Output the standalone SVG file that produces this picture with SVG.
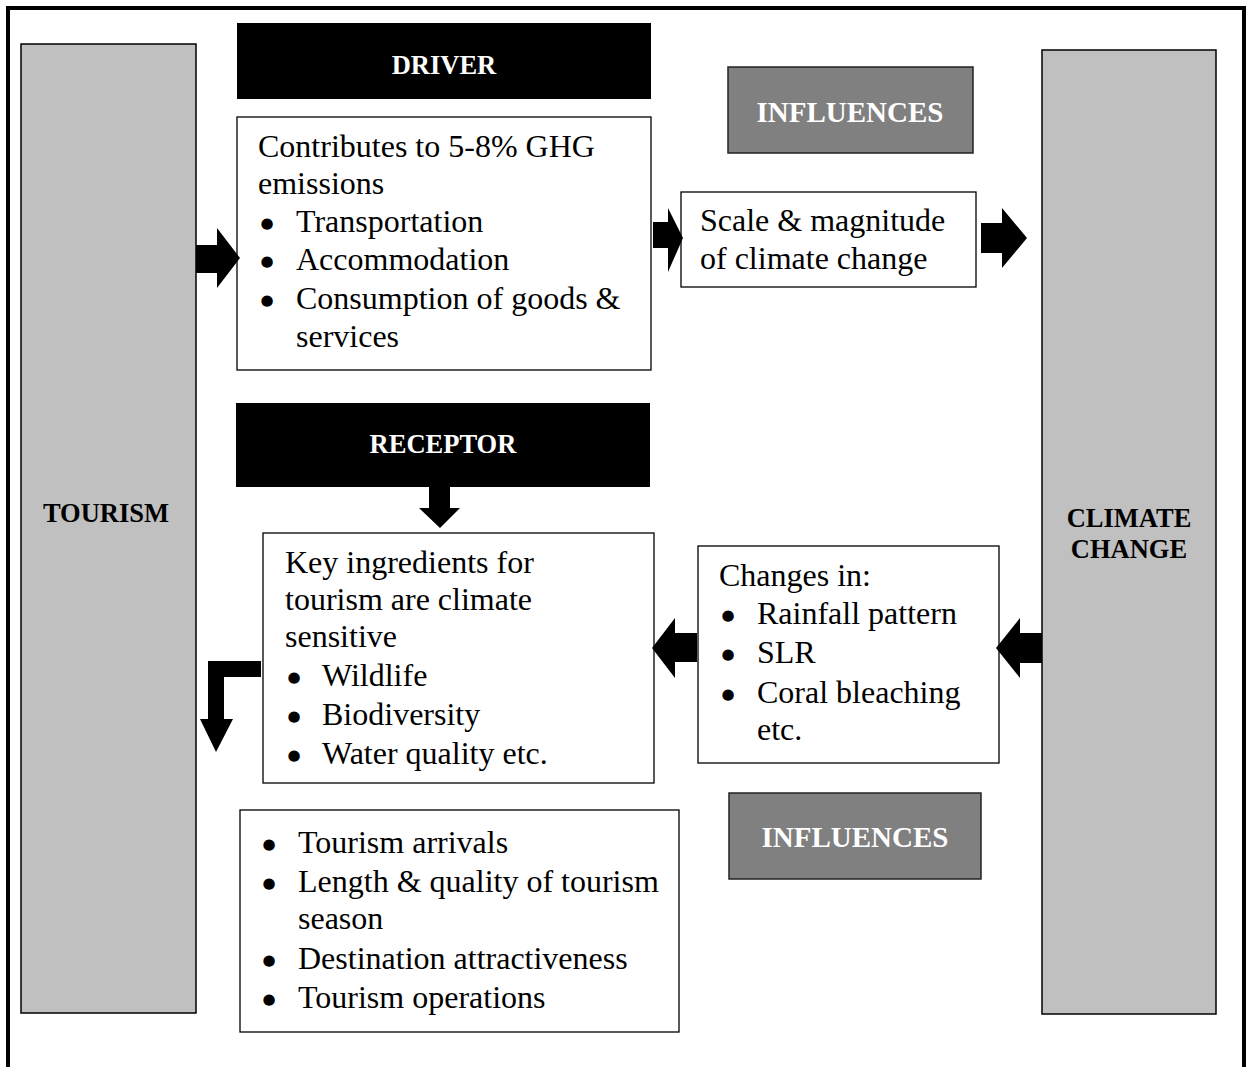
<svg xmlns="http://www.w3.org/2000/svg" width="1248" height="1067" viewBox="0 0 1248 1067">
<style>
.t{font-family:"Liberation Serif","Times New Roman",serif;font-size:32px;fill:#000}
.bl{font-family:"DejaVu Sans",sans-serif;font-size:15px;fill:#000;text-anchor:middle}
.h{font-family:"Liberation Serif","Times New Roman",serif;font-size:26.5px;font-weight:bold;text-anchor:middle}
.hi{font-family:"Liberation Serif","Times New Roman",serif;font-size:29px;font-weight:bold;text-anchor:middle;fill:#fff}
.box{fill:#fff;stroke:#000;stroke-width:1.3}
.side{fill:#c0c0c0;stroke:#000;stroke-width:1.5}
.blk{fill:#000}
.inf{fill:#808080;stroke:#222;stroke-width:1.5}
.arr{fill:#000}
</style>
<rect width="1248" height="1067" fill="#fff"/>
<path d="M8,1067 V8 H1244 V1067" fill="none" stroke="#000" stroke-width="4"/>

<g id="tourism">
<rect class="side" x="21" y="44" width="175" height="969"/>
<text class="h" x="106" y="522">TOURISM</text>
</g>
<g id="climate-change">
<rect class="side" x="1042" y="50" width="174" height="964"/>
<text class="h" x="1129" y="527">CLIMATE</text>
<text class="h" x="1129" y="558">CHANGE</text>
</g>
<g id="driver">
<rect class="blk" x="237" y="23" width="414" height="76"/>
<text class="h" x="444" y="74" fill="#fff">DRIVER</text>
</g>
<g id="influences-top">
<rect class="inf" x="728" y="67" width="245" height="86"/>
<text class="hi" x="850" y="122">INFLUENCES</text>
</g>
<g id="driver-content">
<rect class="box" x="237" y="117" width="414" height="253"/>
<text class="t" x="258" y="157">Contributes to 5-8% GHG</text>
<text class="t" x="258" y="194">emissions</text>
<text class="bl" x="267" y="228">●</text><text class="t" x="296" y="232">Transportation</text>
<text class="bl" x="267" y="266">●</text><text class="t" x="296" y="270">Accommodation</text>
<text class="bl" x="267" y="305">●</text><text class="t" x="296" y="309">Consumption of goods &amp;</text>
<text class="t" x="296" y="347">services</text>
</g>
<g id="scale">
<rect class="box" x="681" y="192" width="295" height="95"/>
<text class="t" x="700" y="231">Scale &amp; magnitude</text>
<text class="t" x="700" y="269">of climate change</text>
</g>
<g id="receptor">
<rect class="blk" x="236" y="403" width="414" height="84"/>
<text class="h" x="443" y="453" fill="#fff">RECEPTOR</text>
</g>
<g id="key-ingredients">
<rect class="box" x="263" y="533" width="391" height="250"/>
<text class="t" x="285" y="573">Key ingredients for</text>
<text class="t" x="285" y="610">tourism are climate</text>
<text class="t" x="285" y="647">sensitive</text>
<text class="bl" x="294" y="682">●</text><text class="t" x="322" y="686">Wildlife</text>
<text class="bl" x="294" y="721">●</text><text class="t" x="322" y="725">Biodiversity</text>
<text class="bl" x="294" y="760">●</text><text class="t" x="322" y="764">Water quality etc.</text>
</g>
<g id="changes">
<rect class="box" x="698" y="546" width="301" height="217"/>
<text class="t" x="719" y="586">Changes in:</text>
<text class="bl" x="728" y="620">●</text><text class="t" x="757" y="624">Rainfall pattern</text>
<text class="bl" x="728" y="659">●</text><text class="t" x="757" y="663">SLR</text>
<text class="bl" x="728" y="699">●</text><text class="t" x="757" y="703">Coral bleaching</text>
<text class="t" x="757" y="740">etc.</text>
</g>
<g id="influences-bottom">
<rect class="inf" x="729" y="793" width="252" height="86"/>
<text class="hi" x="855" y="847">INFLUENCES</text>
</g>
<g id="impacts">
<rect class="box" x="240" y="810" width="439" height="222"/>
<text class="bl" x="269" y="849">●</text><text class="t" x="298" y="853">Tourism arrivals</text>
<text class="bl" x="269" y="888">●</text><text class="t" x="298" y="892">Length &amp; quality of tourism</text>
<text class="t" x="298" y="929">season</text>
<text class="bl" x="269" y="965">●</text><text class="t" x="298" y="969">Destination attractiveness</text>
<text class="bl" x="269" y="1004">●</text><text class="t" x="298" y="1008">Tourism operations</text>
</g>
<g id="connectors">
<polygon class="arr" points="196,245 217,245 217,228 240,258 217,288 217,273 196,273"/>
<polygon class="arr" points="653,222 668,222 668,208 683,238 668,272 668,248 653,248"/>
<polygon class="arr" points="981,223 1002,223 1002,208 1027,238 1002,268 1002,253 981,253"/>
<polygon class="arr" points="429,487 450,487 450,508 460,508 440,528 419,508 429,508"/>
<polygon class="arr" points="261,661 261,677 224,677 224,719 233,719 216,752 200,719 208,719 208,661"/>
<polygon class="arr" points="1042,633 1020,633 1020,618 996,648 1020,678 1020,663 1042,663"/>
<polygon class="arr" points="697,633 675,633 675,618 652,648 675,678 675,662 697,662"/>
</g>
</svg>
